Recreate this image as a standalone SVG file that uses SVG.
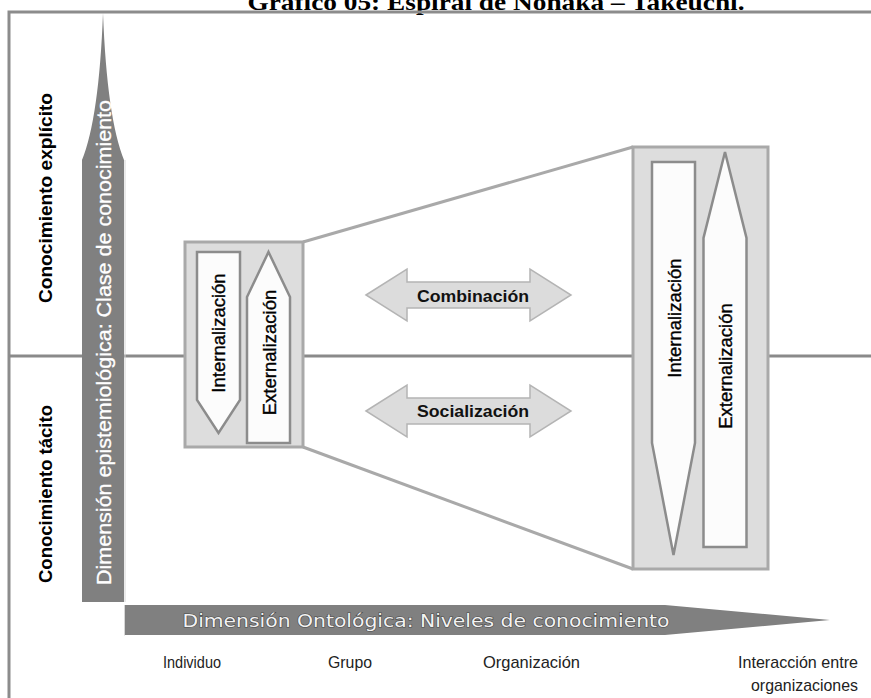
<svg xmlns="http://www.w3.org/2000/svg" width="871" height="698" viewBox="0 0 871 698">
  <style>
    .frame { stroke: #8c8c8c; stroke-width: 3; fill: none; }
    .divider { stroke: #8a8a8a; stroke-width: 3; fill: none; }
    .axis { fill: #808080; }
    .box { fill: #dddddd; stroke: #a9a9a9; stroke-width: 3; }
    .flow { fill: #fcfcfc; stroke: #8c8c8c; stroke-width: 2.5; stroke-linejoin: miter; }
    .link { stroke: #a9a9a9; stroke-width: 3; fill: none; }
    .dbl { fill: #dcdcdc; stroke: #b4b4b4; stroke-width: 1.5; stroke-linejoin: miter; }
    .title { font-family: "Liberation Serif", "Times New Roman", serif; font-weight: bold; font-size: 24px; fill: #000; }
    .side { font-family: "Liberation Sans", Arial, sans-serif; font-weight: bold; font-size: 19px; fill: #000; }
    .axisv { font-family: "Liberation Sans", Arial, sans-serif; font-size: 21px; fill: #ffffff; stroke: #ffffff; stroke-width: 0.3; }
    .axish { font-family: "DejaVu Sans", Verdana, sans-serif; font-size: 18px; fill: #f2f2f2; stroke: #4a4a4a; stroke-width: 1.2; paint-order: stroke; }
    .flowtxt { font-family: "Liberation Sans", Arial, sans-serif; font-size: 18.5px; fill: #000; stroke: #000; stroke-width: 0.35; }
    .dbltxt { font-family: "Liberation Sans", Arial, sans-serif; font-weight: bold; font-size: 17px; fill: #111; }
    .level { font-family: "Liberation Sans", Arial, sans-serif; font-size: 17px; fill: #222; }
  </style>

  <rect x="0" y="0" width="871" height="698" fill="#ffffff"/>

  <!-- title, partly clipped at the top edge -->
  <g id="title">
    <text class="title" x="496" y="10" text-anchor="middle" textLength="497" lengthAdjust="spacingAndGlyphs">Gráfico 05: Espiral de Nonaka – Takeuchi.</text>
  </g>

  <!-- outer frame (top and left edges) -->
  <g id="frame">
    <path class="frame" d="M9,698 V12 H871"/>
  </g>

  <!-- tacit / explicit divider -->
  <g id="divider">
    <line class="divider" x1="9" y1="356" x2="871" y2="356"/>
  </g>

  <!-- side labels -->
  <g id="label-explicito">
    <text class="side" transform="translate(52,198) rotate(-90)" text-anchor="middle" textLength="210" lengthAdjust="spacingAndGlyphs">Conocimiento explícito</text>
  </g>
  <g id="label-tacito">
    <text class="side" transform="translate(52,494) rotate(-90)" text-anchor="middle" textLength="178" lengthAdjust="spacingAndGlyphs">Conocimiento tácito</text>
  </g>

  <!-- epistemological axis (vertical) -->
  <g id="axis-epistemologica">
    <path class="axis" d="M103,13 Q99,118 82,160 V602 H124 V160 Q107,118 103,13 Z"/>
    <line x1="125" y1="160" x2="125" y2="602" stroke="#d6d6d6" stroke-width="1"/>
    <text class="axisv" transform="translate(110.5,342.5) rotate(-90)" text-anchor="middle" textLength="485" lengthAdjust="spacingAndGlyphs">Dimensión epistemiológica: Clase de conocimiento</text>
  </g>

  <!-- ontological axis (horizontal) -->
  <g id="axis-ontologica">
    <path class="axis" d="M125,605 H665 L830,620 L665,635 H125 Z"/>
    <line x1="124.5" y1="605" x2="124.5" y2="635.5" stroke="#d6d6d6" stroke-width="1"/>
    <text class="axish" x="426" y="626.5" text-anchor="middle" textLength="487" lengthAdjust="spacingAndGlyphs">Dimensión Ontológica: Niveles de conocimiento</text>
  </g>

  <!-- connectors between the small and the large spiral box -->
  <g id="connectors">
    <line class="link" x1="303" y1="242" x2="633" y2="147"/>
    <line class="link" x1="303" y1="447" x2="633" y2="569"/>
  </g>

  <!-- small spiral box -->
  <g id="box-individuo">
    <rect class="box" x="185" y="242" width="118" height="205"/>
    <path class="flow" d="M197,252 H240 V400 L218.5,433 L197,400 Z"/>
    <path class="flow" d="M268.5,252 L290,297 V443 H247 V297 Z"/>
    <text class="flowtxt" transform="translate(225,333) rotate(-90)" text-anchor="middle">Internalización</text>
    <text class="flowtxt" transform="translate(276,352.5) rotate(-90)" text-anchor="middle">Externalización</text>
  </g>

  <!-- large spiral box -->
  <g id="box-organizaciones">
    <rect class="box" x="633" y="147" width="135" height="422"/>
    <path class="flow" d="M652,162 H695 V443 L673.5,555 L652,443 Z"/>
    <path class="flow" d="M725,152 L746.5,238 V547 H703.5 V238 Z"/>
    <text class="flowtxt" transform="translate(680.5,318) rotate(-90)" text-anchor="middle">Internalización</text>
    <text class="flowtxt" transform="translate(731.5,366) rotate(-90)" text-anchor="middle">Externalización</text>
  </g>

  <!-- combination -->
  <g id="combinacion">
    <path class="dbl" d="M366,295 L407,269 V282 H530 V269 L571,295 L530,321 V308 H407 V321 Z"/>
    <text class="dbltxt" x="473" y="301.5" text-anchor="middle" textLength="112" lengthAdjust="spacingAndGlyphs">Combinación</text>
  </g>

  <!-- socialization -->
  <g id="socializacion">
    <path class="dbl" d="M366,411 L407,385 V398 H530 V385 L571,411 L530,437 V424 H407 V437 Z"/>
    <text class="dbltxt" x="473" y="417" text-anchor="middle" textLength="112" lengthAdjust="spacingAndGlyphs">Socialización</text>
  </g>

  <!-- ontological levels -->
  <g id="niveles">
    <text class="level" x="163" y="668" textLength="58" lengthAdjust="spacingAndGlyphs">Individuo</text>
    <text class="level" x="328" y="668" textLength="44" lengthAdjust="spacingAndGlyphs">Grupo</text>
    <text class="level" x="483" y="668" textLength="97" lengthAdjust="spacingAndGlyphs">Organización</text>
    <text class="level" x="858" y="668" text-anchor="end" textLength="120" lengthAdjust="spacingAndGlyphs">Interacción entre</text>
    <text class="level" x="858" y="691" text-anchor="end" textLength="107" lengthAdjust="spacingAndGlyphs">organizaciones</text>
  </g>
</svg>
